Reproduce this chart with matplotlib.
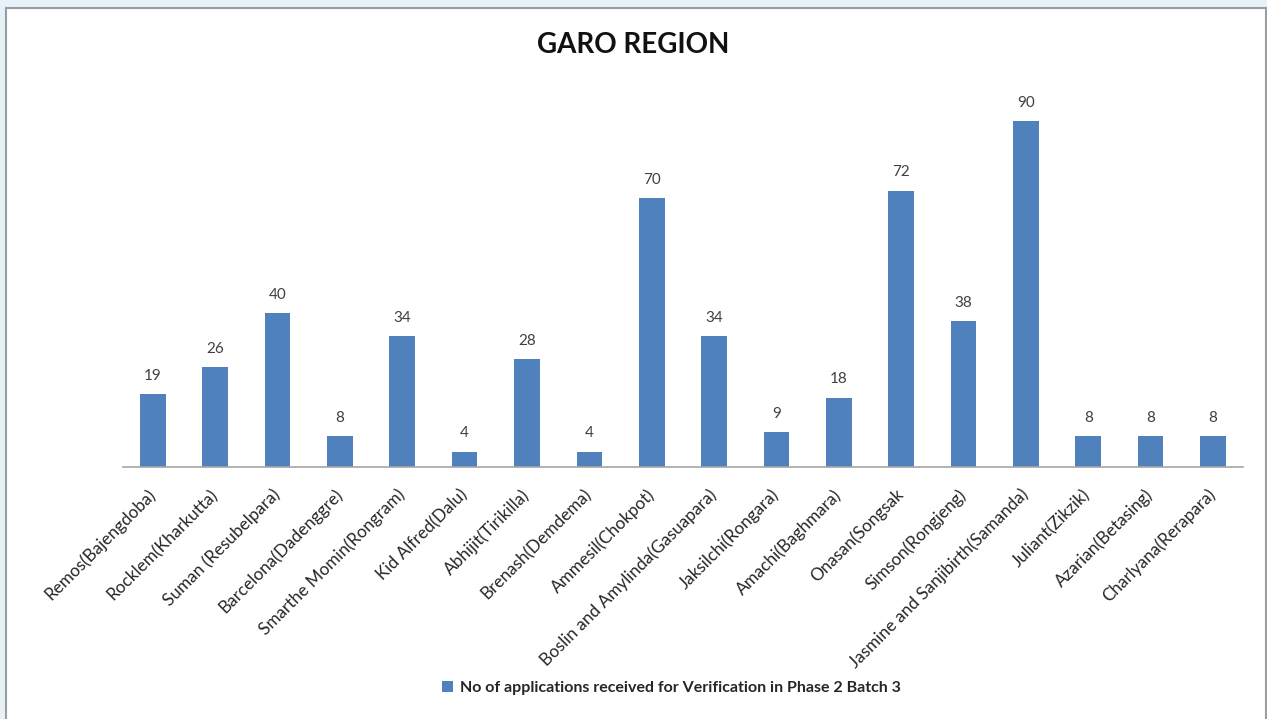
import matplotlib.pyplot as plt
from matplotlib.patches import Rectangle

# ---------------- DATA ----------------
names = [
    "Remos(Bajengdoba)", "Rocklem(Kharkutta)", "Suman (Resubelpara)",
    "Barcelona(Dadenggre)", "Smarthe Momin(Rongram)", "Kid Alfred(Dalu)",
    "Abhijit(Tirikilla)", "Brenash(Demdema)", "Ammesil(Chokpot)",
    "Boslin and Amylinda(Gasuapara)", "Jaksilchi(Rongara)", "Amachi(Baghmara)",
    "Onasan(Songsak", "Simson(Rongjeng)", "Jasmine and Sanjibirth(Samanda)",
    "Juliant(Zikzik)", "Azarian(Betasing)", "Charlyana(Rerapara)",
]
applications = [19, 26, 40, 8, 34, 4, 28, 4, 70, 34, 9, 18, 72, 38, 90, 8, 8, 8]

series_name = "No of applications received for Verification in Phase 2 Batch 3"
title = "GARO REGION"

# ---------------- PLOT ----------------
plt.rcParams['font.family'] = ['Lato', 'DejaVu Sans']

fig = plt.figure(figsize=(12.67, 7.19), dpi=100)
fig.patch.set_facecolor('#e6f1f8')

# white chart area with gray frame (behind everything)
frame = Rectangle((6 / 1267, -0.01), (1266 - 6) / 1267, 1 - 8 / 719 + 0.01,
                  transform=fig.transFigure, facecolor='white',
                  edgecolor='#9a9ea3', linewidth=1.5, zorder=-10)
fig.patches.append(frame)

ax = fig.add_axes([0.097, 0.3505, 0.884, 0.534])
ax.set_facecolor('none')

x = range(len(names))
ax.bar(x, applications, width=0.41, color='#4f81bd', label=series_name, zorder=2)

for xi, v in zip(x, applications):
    ax.text(xi, v + 3, str(v), ha='center', va='bottom', fontsize=11, color='#404040')

ax.set_xlim(-0.48, len(names) - 0.52)
ax.set_ylim(0, 100)
ax.set_yticks([])
ax.set_xticks(list(x))
ax.set_xticklabels(names, rotation=45, ha='right', va='center', rotation_mode='anchor',
                   fontsize=12.3, color='#262626')
ax.tick_params(axis='x', length=0, pad=18)

for side in ['top', 'right', 'left']:
    ax.spines[side].set_visible(False)
ax.spines['bottom'].set_color('#a6a6a6')
ax.spines['bottom'].set_linewidth(1.2)

fig.text(0.5, 0.937, title, ha='center', va='center', fontsize=20,
         fontweight='bold', color='#111111')

leg = fig.legend(loc='center', bbox_to_anchor=(0.530, 0.043), frameon=False,
                 handlelength=0.7, handleheight=0.7, handletextpad=0.4,
                 prop={'size': 11.5, 'weight': 'bold'})
for t in leg.get_texts():
    t.set_color('#262626')

fig.savefig('out.png', dpi=100, facecolor=fig.get_facecolor())
